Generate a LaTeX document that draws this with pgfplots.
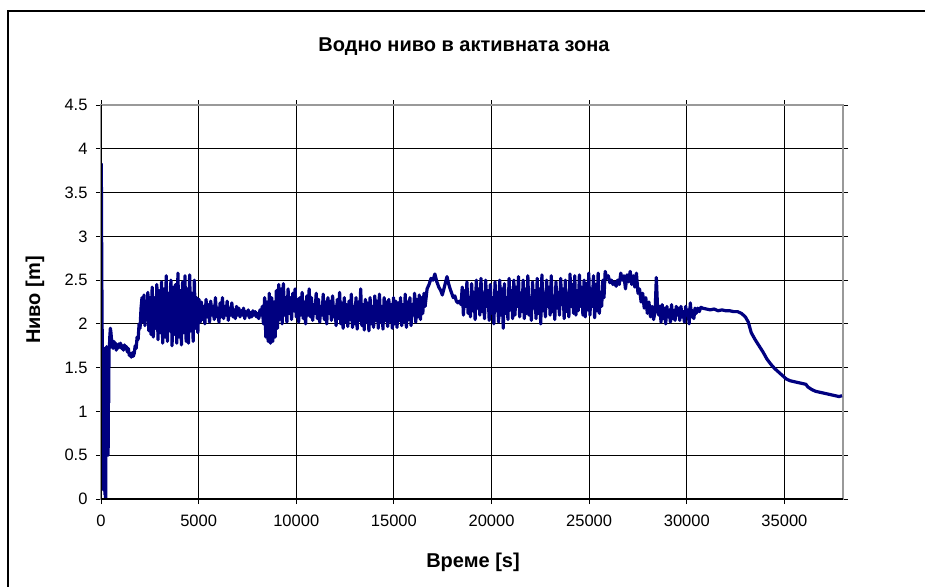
\documentclass[border=0pt]{standalone}
\usepackage{pgfplots}
\pgfplotsset{compat=1.18}
\usepackage{fontspec}
\setmainfont{Liberation Sans}
\definecolor{navy}{RGB}{0,0,128}
\begin{document}
\begin{tikzpicture}[x=1pt,y=1pt]
\useasboundingbox (0,0) rectangle (925,-586);
\draw[line width=1.3pt] (8,-600) -- (8,-11) -- (930,-11);
\node[font=\fontsize{20}{22}\selectfont\bfseries] at (464,-47) {Водно ниво в активната зона};
\node[font=\fontsize{20}{22}\selectfont\bfseries] at (473,-562) {Време [s]};
\node[font=\fontsize{20}{22}\selectfont\bfseries, rotate=90] at (35,-300) {Ниво [m]};
\begin{axis}[at={(101pt,-499pt)}, anchor=south west, scale only axis,
  width=742pt, height=394pt,
  xmin=0, xmax=38000, ymin=0, ymax=4.5,
  xtick={0,5000,10000,15000,20000,25000,30000,35000},
  ytick={0,0.5,1,1.5,2,2.5,3,3.5,4,4.5},
  grid=major, grid style={black, line width=1pt},
  axis line style={gray!80, line width=1.3pt},
  tick align=outside, major tick length=5pt, tick style={black, line width=1pt},
  ticklabel style={font=\fontsize{16.5}{18}\selectfont},
  xticklabel style={yshift=-7pt},
  yticklabel style={xshift=-5pt},
  /pgf/number format/assume math mode=true,
  scaled x ticks=false,
  xticklabel style={/pgf/number format/1000 sep={}},
  clip=true,
]
\addplot[navy, line width=3.2pt, line join=round] coordinates {
(0,2.9) (15,3.83) (40,2.6) (60,1.9) (80,1.2) (95,0.3) (110,1.72) (125,0.8) (140,0.1) (155,1.6)
(170,1.72) (185,0.4) (200,0.05) (215,1.3) (230,0.0) (245,0.0) (260,1.5) (275,0.9) (290,1.74) (305,1.1)
(320,0.5) (335,1.72) (350,1.07) (365,0.5) (380,1.6) (395,1.1) (410,1.74) (430,1.72) (450,1.85) (480,1.95)
(510,1.9) (540,1.82) (580,1.78) (620,1.72) (660,1.8) (700,1.75) (740,1.78) (780,1.7) (820,1.76) (860,1.72)
(900,1.77) (950,1.74) (1000,1.78) (1050,1.72) (1100,1.75) (1150,1.70) (1200,1.76) (1250,1.72) (1300,1.74) (1350,1.68)
(1400,1.72) (1450,1.64) (1500,1.66) (1550,1.62) (1600,1.67) (1650,1.63) (1700,1.66) (1750,1.75) (1800,1.72) (1850,1.85)
(1900,1.82) (1950,2.0) (2000,1.95)
(2050,2.18) (2100,2.3) (2150,2.02) (2200,2.33) (2250,1.98) (2300,2.25) (2350,2.05) (2400,2.36) (2450,1.92) (2500,2.3)
(2560,1.88) (2620,2.42) (2680,1.85) (2740,2.3) (2800,1.95) (2860,2.45) (2920,1.82) (2980,2.38) (3040,1.9) (3100,2.48)
(3160,1.78) (3220,2.4) (3280,1.85) (3340,2.55) (3400,1.80) (3460,2.35) (3520,1.92) (3580,2.5) (3640,1.75) (3700,2.42)
(3760,1.88) (3820,2.45) (3880,1.78) (3940,2.58) (4000,1.85) (4060,2.38) (4120,1.76) (4180,2.48) (4240,1.9) (4300,2.55)
(4360,1.8) (4420,2.4) (4480,1.78) (4540,2.56) (4600,1.92) (4660,2.35) (4720,1.8) (4780,2.5) (4840,1.95) (4900,2.3)
(4960,1.9) (5020,2.28)
(5080,2.02) (5140,2.25) (5200,2.05) (5260,2.2) (5320,2.0) (5380,2.28) (5440,2.08) (5500,2.22) (5560,2.02) (5620,2.26)
(5680,2.1) (5740,2.2) (5800,2.05) (5860,2.3) (5920,2.08) (5980,2.18) (6040,2.02) (6100,2.24) (6160,2.08) (6220,2.3)
(6280,2.06) (6340,2.2) (6400,2.1) (6460,2.26) (6520,2.04) (6580,2.18) (6640,2.1) (6700,2.24) (6760,2.08) (6820,2.16)
(6880,2.06) (6940,2.2) (7000,2.1) (7060,2.18) (7120,2.08) (7180,2.15) (7240,2.1) (7300,2.18) (7360,2.06) (7420,2.14)
(7480,2.1) (7540,2.16) (7600,2.07) (7660,2.13) (7720,2.08) (7780,2.15) (7840,2.1) (7900,2.14) (7960,2.08) (8020,2.12)
(8080,2.06) (8140,2.16) (8200,2.1) (8260,2.2)
(8320,2.0) (8380,2.3) (8440,1.85) (8500,2.25) (8560,1.8) (8620,2.35) (8680,1.78) (8740,2.3) (8800,1.8) (8860,2.25)
(8920,1.85) (8980,2.38) (9040,1.95) (9100,2.45) (9160,2.05) (9220,2.4) (9280,2.0) (9340,2.46) (9400,2.1) (9460,2.3)
(9520,2.02) (9580,2.4) (9640,2.12) (9700,2.3)
(9760,2.05) (9820,2.35) (9880,2.15) (9940,2.4) (10000,2.08) (10060,2.28) (10120,2.02) (10180,2.3) (10240,2.1) (10300,2.36)
(10360,2.06) (10420,2.25) (10480,2.0) (10540,2.32) (10600,2.1) (10660,2.4) (10720,2.08) (10780,2.3) (10840,2.04) (10900,2.22)
(10960,2.12) (11020,2.35) (11080,2.06) (11140,2.28) (11200,2.02) (11260,2.2) (11320,2.1) (11380,2.34) (11440,2.05) (11500,2.25)
(11560,2.0) (11620,2.3) (11680,2.12) (11740,2.26) (11800,2.04) (11860,2.32) (11920,2.08) (11980,2.2) (12040,1.98) (12100,2.28)
(12160,2.06) (12220,2.36) (12280,2.0) (12340,2.24) (12400,1.95) (12460,2.3) (12520,2.02) (12580,2.22) (12640,1.97) (12700,2.26)
(12760,2.05) (12820,2.34) (12880,1.96) (12940,2.2) (13000,2.0) (13060,2.3) (13120,1.94) (13180,2.25) (13240,2.04) (13300,2.4)
(13360,1.98) (13420,2.22) (13480,1.93) (13540,2.28) (13600,2.02) (13660,2.24) (13720,1.92) (13780,2.3) (13840,2.0) (13900,2.2)
(13960,1.96) (14020,2.32) (14080,2.04) (14140,2.26) (14200,1.95) (14260,2.34) (14320,2.02) (14380,2.2) (14440,1.94) (14500,2.3)
(14560,2.04) (14620,2.25) (14680,1.97) (14740,2.28) (14800,2.03) (14860,2.22) (14920,1.95) (14980,2.3) (15040,2.0) (15100,2.26)
(15160,1.96) (15220,2.24) (15280,2.04) (15340,2.3) (15400,1.98) (15460,2.22) (15520,2.02) (15580,2.34) (15640,1.96) (15700,2.25)
(15760,2.05) (15820,2.3) (15880,1.98) (15940,2.22) (16000,2.1) (16060,2.35) (16120,2.02) (16180,2.28) (16240,2.08) (16300,2.33)
(16360,2.05) (16420,2.3) (16480,2.12) (16540,2.35) (16600,2.2)
(16700,2.4) (16800,2.45) (16900,2.52) (17000,2.5) (17100,2.57) (17200,2.48) (17300,2.42) (17400,2.38) (17480,2.33) (17560,2.4)
(17650,2.48) (17720,2.54) (17800,2.46) (17880,2.4) (17960,2.35) (18040,2.3) (18120,2.32) (18200,2.26) (18280,2.24) (18360,2.26)
(18440,2.22)
(18500,2.42) (18560,2.1) (18620,2.38) (18680,2.2) (18740,2.48) (18800,2.12) (18860,2.3) (18920,2.08) (18980,2.46) (19040,2.15)
(19100,2.36) (19160,2.05) (19220,2.5) (19280,2.18) (19340,2.4) (19400,2.1) (19460,2.52) (19520,2.14) (19580,2.35) (19640,2.06)
(19700,2.5) (19760,2.2) (19820,2.38) (19880,2.04) (19940,2.45) (20000,2.12) (20060,2.3) (20120,2.0) (20180,2.48) (20240,2.15)
(20300,2.36) (20360,2.02) (20420,2.5) (20480,2.1) (20540,2.4) (20600,1.95) (20660,2.46) (20720,2.12) (20780,2.3) (20840,2.05)
(20900,2.52) (20960,2.16) (21020,2.38) (21080,2.06) (21140,2.5) (21200,2.1) (21260,2.42) (21320,2.2) (21380,2.54) (21440,2.08)
(21500,2.35) (21560,2.14) (21620,2.5) (21680,2.06) (21740,2.4) (21800,2.12) (21860,2.55) (21920,2.1) (21980,2.3) (22040,2.04)
(22100,2.48) (22160,2.18) (22220,2.38) (22280,2.06) (22340,2.52) (22400,2.12) (22460,2.4) (22520,2.0) (22580,2.56) (22640,2.15)
(22700,2.35) (22760,2.08) (22820,2.5) (22880,2.2) (22940,2.42) (23000,2.1) (23060,2.55) (23120,2.14) (23180,2.3) (23240,2.05)
(23300,2.48) (23360,2.18) (23420,2.36) (23480,2.1) (23540,2.52) (23600,2.22) (23660,2.4) (23720,2.06) (23780,2.5) (23840,2.14)
(23900,2.35) (23960,2.08) (24020,2.57) (24080,2.2) (24140,2.45) (24200,2.12) (24260,2.55) (24320,2.1) (24380,2.38) (24440,2.15)
(24500,2.56) (24560,2.2) (24620,2.42) (24680,2.1) (24740,2.5) (24800,2.08) (24860,2.46) (24920,2.16) (24980,2.58) (25040,2.1)
(25100,2.4) (25160,2.2) (25220,2.55) (25280,2.07) (25340,2.45) (25400,2.15) (25460,2.58) (25520,2.12) (25580,2.36) (25640,2.2)
(25700,2.5)
(25760,2.3) (25820,2.6) (25900,2.52) (25980,2.55) (26060,2.47) (26140,2.5) (26220,2.45) (26300,2.48) (26380,2.43) (26460,2.5)
(26540,2.45) (26620,2.58) (26700,2.5) (26780,2.55) (26860,2.4) (26940,2.56) (27020,2.48) (27100,2.6) (27180,2.45) (27260,2.55)
(27340,2.42) (27420,2.58)
(27500,2.35) (27580,2.4) (27660,2.25) (27740,2.35) (27820,2.18) (27900,2.3) (27980,2.12) (28060,2.25) (28140,2.08) (28220,2.2)
(28300,2.05) (28380,2.15) (28440,2.53) (28500,2.2) (28560,2.1)
(28620,2.2) (28680,2.02) (28740,2.22) (28800,2.06) (28860,2.18) (28920,2.0) (28980,2.2) (29040,2.08) (29100,2.16) (29160,2.02)
(29220,2.22) (29280,2.06) (29340,2.15) (29400,2.04) (29460,2.2) (29520,2.1) (29580,2.18) (29640,2.04) (29700,2.2) (29760,2.08)
(29820,2.14) (29880,2.02) (29940,2.2) (30000,2.1) (30060,2.16) (30120,2.0) (30180,2.24) (30240,2.08) (30300,2.15) (30360,2.06)
(30420,2.18) (30480,2.12) (30560,2.18) (30640,2.14) (30720,2.19)
(30800,2.18) (31000,2.17) (31200,2.16) (31400,2.17) (31600,2.15) (31800,2.16) (32000,2.15) (32200,2.15) (32400,2.14) (32600,2.14)
(32800,2.12) (33000,2.08) (33150,2.02) (33300,1.9) (33500,1.82) (33700,1.75) (33900,1.68) (34100,1.6) (34300,1.54) (34500,1.49)
(34700,1.45) (34900,1.41) (35100,1.37) (35300,1.35) (35500,1.34) (35700,1.33) (35900,1.32) (36100,1.31) (36200,1.28) (36400,1.25)
(36600,1.23) (36800,1.22) (37000,1.21) (37200,1.2) (37400,1.19) (37600,1.18) (37800,1.17) (37950,1.18)
};
\draw[black, line width=1.3pt] (rel axis cs:0,1) -- (rel axis cs:0,0) -- (rel axis cs:1,0);
\end{axis}
\end{tikzpicture}
\end{document}
